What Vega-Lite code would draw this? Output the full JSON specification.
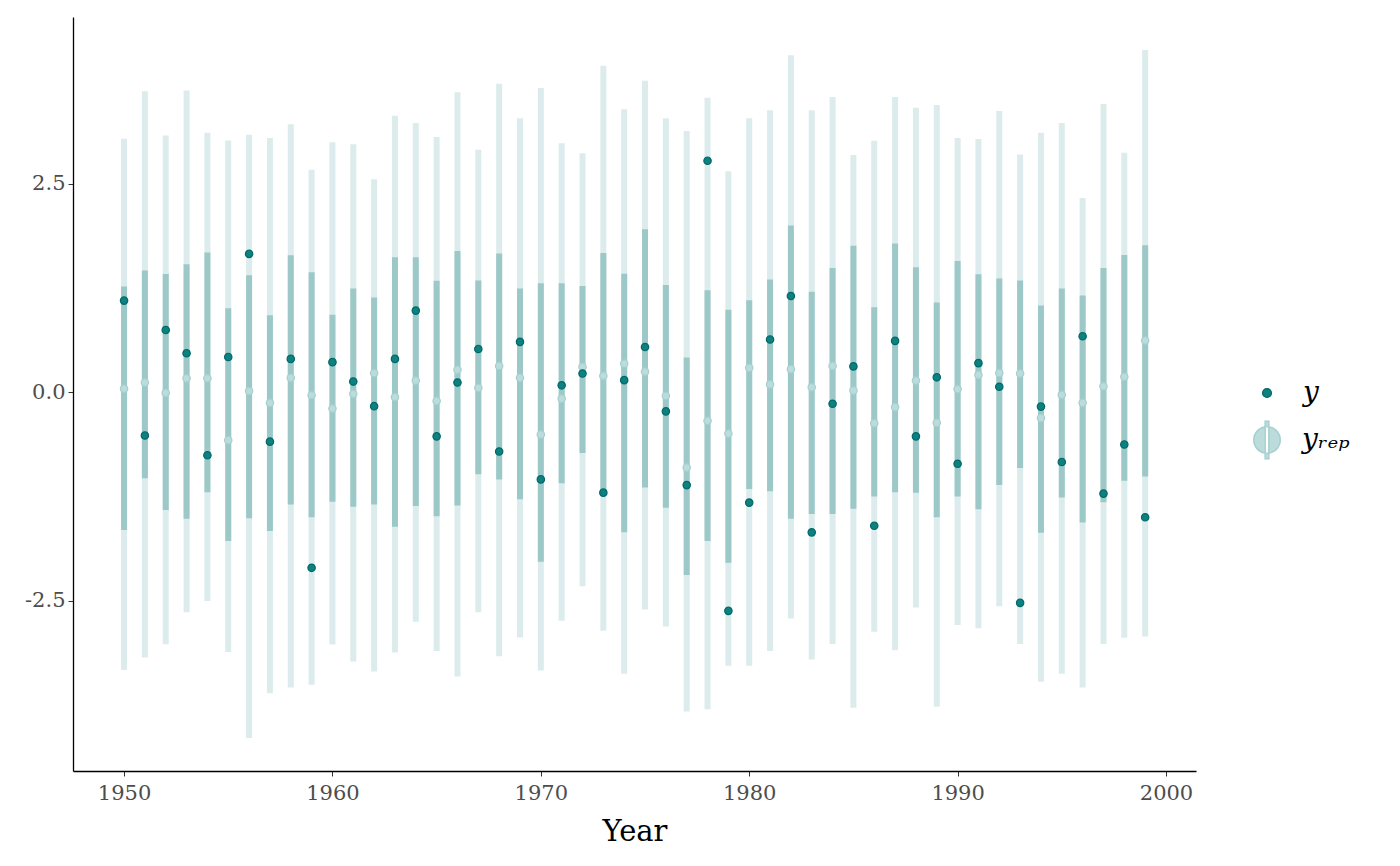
{
  "$schema": "https://vega.github.io/schema/vega-lite/v6.json",
  "width": 1123,
  "height": 754,
  "autosize": "none",
  "padding": {"left": 73, "top": 17, "right": 204, "bottom": 95},
  "background": "white",
  "config": {
    "view": {"stroke": null},
    "font": "DejaVu Serif",
    "axis": {"grid": false, "domainColor": "black", "domainWidth": 1.3, "tickColor": "#333333", "tickSize": 5, "labelFont": "DejaVu Serif", "labelFontSize": 21, "labelColor": "#4d4d4d", "titleFont": "DejaVu Serif", "titleFontWeight": "normal", "titleColor": "black"},
    "legend": {"labelFont": "DejaVu Serif", "labelFontStyle": "italic", "labelFontSize": 28, "labelColor": "black"}
  },
  "data": {"values": [
    {"year":1950,"y":1.10,"med":0.044,"lo50":-1.65,"hi50":1.27,"lo90":-3.33,"hi90":3.04},
    {"year":1951,"y":-0.517,"med":0.118,"lo50":-1.03,"hi50":1.46,"lo90":-3.18,"hi90":3.61},
    {"year":1952,"y":0.747,"med":-0.007,"lo50":-1.41,"hi50":1.42,"lo90":-3.02,"hi90":3.08},
    {"year":1953,"y":0.469,"med":0.169,"lo50":-1.515,"hi50":1.535,"lo90":-2.637,"hi90":3.62},
    {"year":1954,"y":-0.755,"med":0.169,"lo50":-1.197,"hi50":1.677,"lo90":-2.501,"hi90":3.111},
    {"year":1955,"y":0.424,"med":-0.574,"lo50":-1.781,"hi50":1.008,"lo90":-3.113,"hi90":3.02},
    {"year":1956,"y":1.66,"med":0.016,"lo50":-1.509,"hi50":1.405,"lo90":-4.145,"hi90":3.088},
    {"year":1957,"y":-0.591,"med":-0.126,"lo50":-1.662,"hi50":0.923,"lo90":-3.607,"hi90":3.049},
    {"year":1958,"y":0.401,"med":0.175,"lo50":-1.345,"hi50":1.643,"lo90":-3.539,"hi90":3.213},
    {"year":1959,"y":-2.104,"med":-0.035,"lo50":-1.498,"hi50":1.439,"lo90":-3.505,"hi90":2.669},
    {"year":1960,"y":0.362,"med":-0.194,"lo50":-1.311,"hi50":0.929,"lo90":-3.023,"hi90":2.998},
    {"year":1961,"y":0.129,"med":-0.018,"lo50":-1.373,"hi50":1.246,"lo90":-3.227,"hi90":2.975},
    {"year":1962,"y":-0.166,"med":0.231,"lo50":-1.345,"hi50":1.138,"lo90":-3.346,"hi90":2.556},
    {"year":1963,"y":0.401,"med":-0.058,"lo50":-1.611,"hi50":1.62,"lo90":-3.119,"hi90":3.315},
    {"year":1964,"y":0.98,"med":0.141,"lo50":-1.362,"hi50":1.62,"lo90":-2.751,"hi90":3.23},
    {"year":1965,"y":-0.528,"med":-0.103,"lo50":-1.486,"hi50":1.337,"lo90":-3.102,"hi90":3.06},
    {"year":1966,"y":0.118,"med":0.271,"lo50":-1.356,"hi50":1.694,"lo90":-3.408,"hi90":3.599},
    {"year":1967,"y":0.52,"med":0.055,"lo50":-0.982,"hi50":1.342,"lo90":-2.637,"hi90":2.907},
    {"year":1968,"y":-0.71,"med":0.316,"lo50":-1.044,"hi50":1.666,"lo90":-3.165,"hi90":3.701},
    {"year":1969,"y":0.605,"med":0.175,"lo50":-1.282,"hi50":1.246,"lo90":-2.938,"hi90":3.287},
    {"year":1970,"y":-1.044,"med":-0.506,"lo50":-2.031,"hi50":1.308,"lo90":-3.335,"hi90":3.65},
    {"year":1971,"y":0.084,"med":-0.075,"lo50":-1.09,"hi50":1.308,"lo90":-2.739,"hi90":2.986},
    {"year":1972,"y":0.225,"med":0.305,"lo50":-0.727,"hi50":1.274,"lo90":-2.325,"hi90":2.867},
    {"year":1973,"y":-1.203,"med":0.197,"lo50":-1.2,"hi50":1.671,"lo90":-2.858,"hi90":3.916},
    {"year":1974,"y":0.146,"med":0.345,"lo50":-1.679,"hi50":1.422,"lo90":-3.374,"hi90":3.395},
    {"year":1975,"y":0.543,"med":0.248,"lo50":-1.141,"hi50":1.955,"lo90":-2.603,"hi90":3.735},
    {"year":1976,"y":-0.228,"med":-0.041,"lo50":-1.385,"hi50":1.286,"lo90":-2.807,"hi90":3.287},
    {"year":1977,"y":-1.112,"med":-0.902,"lo50":-2.189,"hi50":0.418,"lo90":-3.828,"hi90":3.134},
    {"year":1978,"y":2.777,"med":-0.341,"lo50":-1.781,"hi50":1.223,"lo90":-3.799,"hi90":3.531},
    {"year":1979,"y":-2.62,"med":-0.494,"lo50":-2.042,"hi50":0.991,"lo90":-3.278,"hi90":2.652},
    {"year":1980,"y":-1.322,"med":0.294,"lo50":-1.158,"hi50":1.104,"lo90":-3.278,"hi90":3.287},
    {"year":1981,"y":0.634,"med":0.095,"lo50":-1.186,"hi50":1.354,"lo90":-3.102,"hi90":3.383},
    {"year":1982,"y":1.155,"med":0.277,"lo50":-1.515,"hi50":2.0,"lo90":-2.711,"hi90":4.041},
    {"year":1983,"y":-1.679,"med":0.061,"lo50":-1.458,"hi50":1.206,"lo90":-3.204,"hi90":3.383},
    {"year":1984,"y":-0.137,"med":0.316,"lo50":-1.458,"hi50":1.49,"lo90":-3.017,"hi90":3.542},
    {"year":1985,"y":0.311,"med":0.022,"lo50":-1.396,"hi50":1.756,"lo90":-3.782,"hi90":2.845},
    {"year":1986,"y":-1.6,"med":-0.37,"lo50":-1.248,"hi50":1.019,"lo90":-2.87,"hi90":3.015},
    {"year":1987,"y":0.617,"med":-0.177,"lo50":-1.197,"hi50":1.785,"lo90":-3.091,"hi90":3.542},
    {"year":1988,"y":-0.528,"med":0.141,"lo50":-1.203,"hi50":1.501,"lo90":-2.581,"hi90":3.412},
    {"year":1989,"y":0.18,"med":-0.364,"lo50":-1.498,"hi50":1.076,"lo90":-3.771,"hi90":3.446},
    {"year":1990,"y":-0.857,"med":0.039,"lo50":-1.248,"hi50":1.575,"lo90":-2.79,"hi90":3.049},
    {"year":1991,"y":0.35,"med":0.209,"lo50":-1.401,"hi50":1.416,"lo90":-2.83,"hi90":3.037},
    {"year":1992,"y":0.067,"med":0.231,"lo50":-1.112,"hi50":1.365,"lo90":-2.564,"hi90":3.372},
    {"year":1993,"y":-2.524,"med":0.226,"lo50":-0.908,"hi50":1.342,"lo90":-3.017,"hi90":2.85},
    {"year":1994,"y":-0.171,"med":-0.307,"lo50":-1.685,"hi50":1.042,"lo90":-3.471,"hi90":3.111},
    {"year":1995,"y":-0.835,"med":-0.03,"lo50":-1.26,"hi50":1.246,"lo90":-3.374,"hi90":3.23},
    {"year":1996,"y":0.673,"med":-0.126,"lo50":-1.56,"hi50":1.161,"lo90":-3.539,"hi90":2.329},
    {"year":1997,"y":-1.214,"med":0.073,"lo50":-1.317,"hi50":1.49,"lo90":-3.017,"hi90":3.457},
    {"year":1998,"y":-0.625,"med":0.186,"lo50":-1.061,"hi50":1.648,"lo90":-2.943,"hi90":2.873},
    {"year":1999,"y":-1.498,"med":0.622,"lo50":-1.01,"hi50":1.762,"lo90":-2.927,"hi90":4.103}
  ]},
  "encoding": {
    "x": {"field": "year", "type": "quantitative",
      "scale": {"domain": [1947.55, 2001.44], "nice": false, "zero": false},
      "axis": {"values": [1950, 1960, 1970, 1980, 1990, 2000], "format": "d", "title": "Year", "titleFontSize": 29, "titlePadding": 14, "labelPadding": 6, "domainColor": "black"}}
  },
  "layer": [
    {
      "mark": {"type": "rule", "strokeWidth": 6, "color": "#dcecec"},
      "encoding": {
        "y": {"field": "lo90", "type": "quantitative",
          "scale": {"domain": [-4.54, 4.50], "nice": false, "zero": false},
          "axis": {"values": [-2.5, 0, 2.5], "labelExpr": "replace(format(datum.value, '.1f'), '\u2212', '-')", "title": null, "labelPadding": 3, "domainColor": "black"}},
        "y2": {"field": "hi90"}
      }
    },
    {
      "mark": {"type": "rule", "strokeWidth": 6, "color": "#9dc8c8"},
      "encoding": {
        "y": {"field": "lo50", "type": "quantitative"},
        "y2": {"field": "hi50"}
      }
    },
    {
      "mark": {"type": "circle", "size": 55, "stroke": "#a6d0d0", "strokeWidth": 1.2, "opacity": 1},
      "encoding": {
        "y": {"field": "med", "type": "quantitative"},
        "fill": {"datum": "yrep", "type": "nominal",
          "scale": {"domain": ["yrep"], "range": ["#bcdcdc"]},
          "legend": {
            "title": null,
            "orient": "none",
            "legendX": 1180,
            "legendY": 409,
            "symbolSize": 700,
            "symbolType": "M-1,0 A1,1 0 1,0 1,0 A1,1 0 1,0 -1,0 Z M-0.14,-1.42 L0.14,-1.42 L0.14,1.42 L-0.14,1.42 Z",
            "symbolStrokeColor": "#a6d0d0",
            "symbolStrokeWidth": 1.5,
            "symbolOpacity": 1,
            "labelOffset": 21,
            "labelExpr": "'yᵣₑₚ'"
          }}
      }
    },
    {
      "mark": {"type": "circle", "size": 55, "stroke": "#006a6a", "strokeWidth": 1.2, "opacity": 1},
      "encoding": {
        "y": {"field": "y", "type": "quantitative"},
        "color": {"datum": "y", "type": "nominal",
          "scale": {"domain": ["y"], "range": ["#0f8080"]},
          "legend": {
            "title": null,
            "orient": "none",
            "legendX": 1180,
            "legendY": 362,
            "symbolSize": 80,
            "symbolType": "circle",
            "symbolStrokeColor": "#006a6a",
            "symbolStrokeWidth": 1.2,
            "symbolOpacity": 1,
            "labelOffset": 22
          }}
      }
    }
  ]
}
